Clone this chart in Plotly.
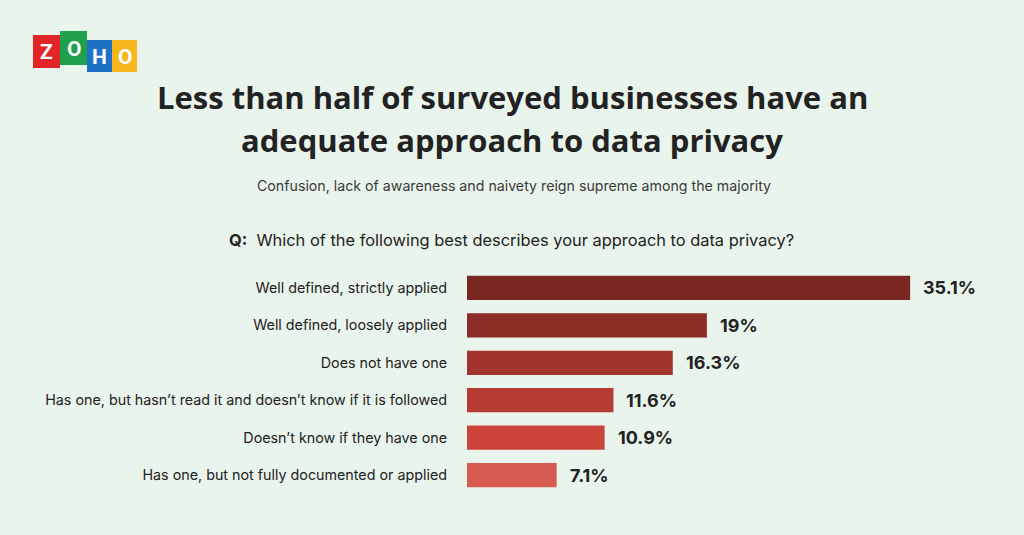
import plotly.graph_objects as go

W, H = 1024, 535

categories = [
    "Well defined, strictly applied",
    "Well defined, loosely applied",
    "Does not have one",
    "Has one, but hasn\u2019t read it and doesn\u2019t know if it is followed",
    "Doesn\u2019t know if they have one",
    "Has one, but not fully documented or applied",
]
values = [35.1, 19, 16.3, 11.6, 10.9, 7.1]
value_labels = ["35.1%", "19%", "16.3%", "11.6%", "10.9%", "7.1%"]
bar_colors = ["#7A2621", "#8D2D27", "#A1352D", "#B63B33", "#CB4339", "#D65A50"]

title_lines = [
    "Less than half of surveyed businesses have an",
    "adequate approach to data privacy",
]
subtitle = "Confusion, lack of awareness and naivety reign supreme among the majority"
question = "Which of the following best describes your approach to data privacy?"

BG = "#E9F4EC"
TXT = "#222222"

def px_x(x):
    return x / W

def px_y(y):
    return 1 - y / H

fig = go.Figure()
fig.add_trace(go.Bar(
    x=values,
    y=categories,
    orientation="h",
    marker=dict(color=bar_colors, line=dict(width=0)),
    hoverinfo="skip",
))

# value labels
for c, v, lab in zip(categories, values, value_labels):
    fig.add_annotation(
        x=v, y=c, xref="x", yref="y", text="<b>" + lab + "</b>",
        showarrow=False, xanchor="left", xshift=11,
        font=dict(family="Inter, Roboto, sans-serif", size=18, color=TXT),
    )

x_left, x_right = 467, 972
y_top, y_bot = 269.25, 493.75
fig.update_layout(
    width=W, height=H,
    margin=dict(l=0, r=0, t=0, b=0),
    paper_bgcolor=BG, plot_bgcolor=BG,
    showlegend=False,
    bargap=0.35,
    xaxis=dict(domain=[px_x(x_left), px_x(x_right)], range=[0, 40],
               visible=False, fixedrange=True),
    yaxis=dict(domain=[px_y(y_bot), px_y(y_top)], autorange="reversed",
               showgrid=False, zeroline=False, showline=False, ticks="",
               ticklabelstandoff=19, fixedrange=True,
               tickfont=dict(family="Inter, Roboto, sans-serif", size=14.3, color=TXT)),
)

# Title (two lines)
for line, yy in zip(title_lines, [97, 140]):
    fig.add_annotation(
        x=px_x(512), y=px_y(yy), xref="paper", yref="paper",
        text="<b>" + line + "</b>",
        showarrow=False, xanchor="center", yanchor="middle",
        font=dict(family="Open Sans, sans-serif", size=31, color=TXT),
    )

fig.add_annotation(
    x=px_x(514), y=px_y(186), xref="paper", yref="paper",
    text=subtitle,
    showarrow=False, xanchor="center", yanchor="middle",
    font=dict(family="Inter, Roboto, sans-serif", size=14.2, color="#3a3a3a"),
)
fig.add_annotation(
    x=px_x(227), y=px_y(240), xref="paper", yref="paper",
    text="<b>Q:</b>  " + question,
    showarrow=False, xanchor="left", yanchor="middle",
    font=dict(family="Inter, Roboto, sans-serif", size=16.4, color=TXT),
)

# ZOHO logo
logo = [
    ("Z", "#E42527", 33, 35, 60, 68),
    ("O", "#1FA04A", 60, 31, 87, 65),
    ("H", "#1E72C6", 87, 40, 112, 72),
    ("O", "#F8B61D", 112, 40, 137, 72),
]
for letter, col, x0, y0, x1, y1 in logo:
    fig.add_shape(type="rect", xref="paper", yref="paper",
                  x0=px_x(x0), x1=px_x(x1), y0=px_y(y1), y1=px_y(y0),
                  fillcolor=col, line=dict(width=0), layer="below")
for letter, col, x0, y0, x1, y1 in logo:
    fig.add_annotation(x=px_x((x0 + x1) / 2), y=px_y((y0 + y1) / 2 + 1),
                       xref="paper", yref="paper", text="<b>" + letter + "</b>",
                       showarrow=False, xanchor="center", yanchor="middle",
                       font=dict(family="Roboto, sans-serif", size=21, color="white"))

fig.write_html(
    "out.html",
    config={"displayModeBar": False},
    post_script="document.body.style.margin='0';document.body.style.overflow='hidden';",
)
